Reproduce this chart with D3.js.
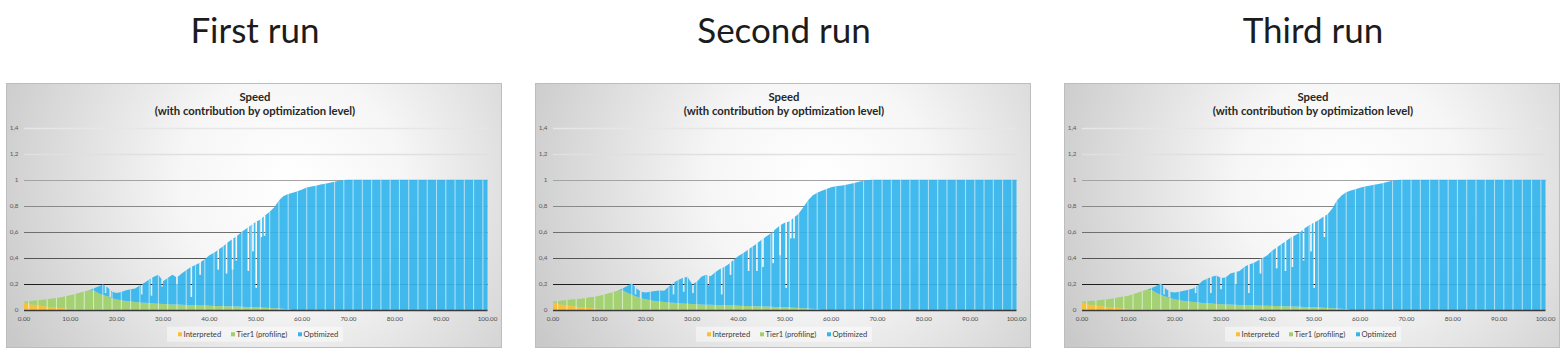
<!DOCTYPE html>
<html>
<head>
<meta charset="utf-8">
<script src="https://cdn.jsdelivr.net/npm/d3@7"></script>
<style>
  body { margin: 0; background: #fff; }
  svg { display: block; }
</style>
</head>
<body>
<div id="chart"></div>
<script>
// sample positions along the run (x axis 0..100)
const samples = [
  0,1,2,3,4,5,6,7,8,9,10,11,12,13,14,15,16,17,18,19,20,
  21,22,23,24,25,26,27,28,29,30,31,32,33,34,35,36,37,38,39,40,
  41,42,43,44,45,46,47,48,49,50,51,52,53,54,55,56,57,58,59,60,
  61,62,63,64,65,66,67,68,69,70,71,72,73,74,75,76,77,78,79,80,
  81,82,83,84,85,86,87,88,89,90,91,92,93,94,95,96,97,98,99,100
];

const runTitles = ["First run", "Second run", "Third run"];
const seriesNames = ["Interpreted", "Tier1 (profiling)", "Optimized"];
const xTicks = [0, 10, 20, 30, 40, 50, 60, 70, 80, 90, 100];
const yTicks = [0, 0.2, 0.4, 0.6, 0.8, 1, 1.2, 1.4];

// values past the end of the interpreted / tier1 arrays are zero
const interpretedRun1 = [0.06,0.045,0.04,0.035,0.03,0.025,0.02,0.018,0.015,0.012,0.01,0.008,0.006,0.005,0.004,0.004,0.003,0.003,0.003,0.002,0.002];
const tier1Run1 = [0.005,0.023,0.032,0.04,0.048,0.058,0.068,0.075,0.083,0.093,0.103,0.114,0.126,0.137,0.148,0.146,0.127,0.112,0.102,0.088,0.078,
  0.075,0.07,0.066,0.062,0.058,0.055,0.053,0.05,0.048,0.046,0.044,0.043,0.042,0.04,0.039,0.038,0.036,0.035,0.034,0.032,
  0.031,0.03,0.029,0.028,0.027,0.026,0.025,0.024,0.023,0.022,0.02,0.018,0.016,0.014,0.012,0.01,0.006];
const optimizedRun1 = [0,0,0,0,0,0,0,0,0,0,0,0,0,0,0,0.015,0.05,0.08,0.07,0.05,0.05,
  0.063,0.082,0.094,0.103,0.132,0.155,0.182,0.205,0.222,0.174,0.201,0.227,0.208,0.24,0.266,0.292,0.309,0.33,0.356,0.388,
  0.409,0.435,0.461,0.492,0.518,0.544,0.575,0.601,0.627,0.653,0.675,0.707,0.739,0.776,0.828,0.865,0.884,0.9,0.912,0.925,
  0.94,0.948,0.955,0.963,0.97,0.977,0.985,0.992,0.998,1,1,1,1,1,1,1,1,1,1,1,
  1,1,1,1,1,1,1,1,1,1,1,1,1,1,1,1,1,1,1,1];
const dipsRun1 = [[17.6,0.13],[18.6,0.1],[25.4,0.12],[27.5,0.11],[29.8,0.18],[33,0.2],[36.1,0.1],[38,0.27],[41.9,0.31],
  [43.7,0.28],[45,0.31],[45.8,0.38],[48.4,0.3],[49.4,0.45],[50.1,0.17],[51.2,0.56],[51.9,0.57]];

const interpretedRun2 = [0.062,0.046,0.04,0.036,0.031,0.026,0.021,0.018,0.015,0.012,0.01,0.008,0.006,0.005,0.004,0.004,0.003,0.003,0.003,0.002,0.002];
const tier1Run2 = [0.004,0.022,0.033,0.041,0.049,0.058,0.066,0.074,0.082,0.09,0.1,0.11,0.122,0.134,0.146,0.148,0.13,0.114,0.1,0.088,0.08,
  0.075,0.07,0.066,0.062,0.058,0.055,0.052,0.05,0.048,0.046,0.044,0.042,0.041,0.04,0.038,0.037,0.036,0.035,0.034,0.032,
  0.031,0.03,0.029,0.028,0.027,0.026,0.025,0.024,0.023,0.022,0.02,0.018,0.016,0.014,0.012,0.01,0.006];
const optimizedRun2 = [0,0,0,0,0,0,0,0,0,0,0,0,0,0,0,0.013,0.052,0.088,0.062,0.05,0.053,
  0.065,0.075,0.084,0.086,0.122,0.155,0.178,0.195,0.207,0.154,0.171,0.213,0.229,0.22,0.252,0.278,0.294,0.32,0.351,0.383,
  0.404,0.43,0.456,0.482,0.513,0.539,0.565,0.596,0.627,0.648,0.66,0.692,0.724,0.776,0.828,0.87,0.894,0.915,0.93,0.942,
  0.95,0.955,0.96,0.968,0.975,0.985,0.993,0.999,1,1,1,1,1,1,1,1,1,1,1,1,
  1,1,1,1,1,1,1,1,1,1,1,1,1,1,1,1,1,1,1,1];
const dipsRun2 = [[17.8,0.12],[18.9,0.09],[26,0.12],[28.2,0.14],[30.2,0.13],[33.5,0.19],[36.4,0.12],[38.3,0.27],[42.2,0.3],
  [44,0.3],[45.3,0.33],[47.5,0.36],[49,0.42],[50.3,0.17],[51.3,0.55],[52,0.55]];

const interpretedRun3 = [0.06,0.044,0.039,0.034,0.03,0.025,0.021,0.018,0.015,0.012,0.01,0.008,0.006,0.005,0.004,0.004,0.003,0.003,0.003,0.002,0.002];
const tier1Run3 = [0.006,0.024,0.032,0.038,0.046,0.055,0.064,0.072,0.082,0.092,0.1,0.112,0.126,0.14,0.152,0.15,0.13,0.112,0.1,0.09,0.08,
  0.074,0.069,0.065,0.061,0.057,0.054,0.052,0.05,0.047,0.045,0.043,0.042,0.041,0.039,0.038,0.037,0.036,0.035,0.033,0.032,
  0.031,0.03,0.029,0.028,0.027,0.026,0.025,0.024,0.023,0.022,0.02,0.018,0.016,0.014,0.012,0.009,0.005];
const optimizedRun3 = [0,0,0,0,0,0,0,0,0,0,0,0,0,0,0,0.014,0.052,0.09,0.062,0.048,0.053,
  0.066,0.079,0.09,0.104,0.133,0.171,0.188,0.205,0.218,0.2,0.207,0.238,0.249,0.261,0.292,0.313,0.324,0.345,0.367,0.388,
  0.424,0.45,0.476,0.502,0.528,0.549,0.57,0.601,0.627,0.648,0.67,0.697,0.719,0.766,0.828,0.871,0.9,0.918,0.928,0.938,
  0.948,0.955,0.962,0.968,0.975,0.985,0.993,0.999,1,1,1,1,1,1,1,1,1,1,1,1,
  1,1,1,1,1,1,1,1,1,1,1,1,1,1,1,1,1,1,1,1];
const dipsRun3 = [[17.7,0.12],[18.8,0.1],[24.5,0.13],[27.8,0.13],[30,0.16],[33.2,0.2],[36,0.13],[38.5,0.28],[42,0.32],
  [43.9,0.3],[45.4,0.33],[47.8,0.38],[49.4,0.45],[50.1,0.17],[52.3,0.56]];

const runs = [
  { interpreted: interpretedRun1, tier1: tier1Run1, optimized: optimizedRun1, dips: dipsRun1 },
  { interpreted: interpretedRun2, tier1: tier1Run2, optimized: optimizedRun2, dips: dipsRun2 },
  { interpreted: interpretedRun3, tier1: tier1Run3, optimized: optimizedRun3, dips: dipsRun3 }
];

const colors = { "Interpreted": "#fcbf2d", "Tier1 (profiling)": "#9fd06a", "Optimized": "#35b5ec" };

var width = 1566, height = 353;
var boxLeft = [6, 535, 1064];
var boxW = 495, boxTop = 83, boxH = 264;
var m = { left: 18, right: 13.5, top: 44.7, bottom: 37 };

var commaLocale = d3.formatLocale({ decimal: ",", thousands: ".", grouping: [3], currency: ["", ""] });
var yFmt = commaLocale.format("~g");
var xFmt = d3.format(".2f");

// gridline shade gets lighter towards the top, as in the source image
var gridColor = d3.scaleLinear()
  .domain([0, 0.2, 0.4, 1, 1.2, 1.4])
  .range(["#3a3a3a", "#1e1e1e", "#555555", "#a3a3a3", "#e0e0e0", "#e6e6e6"]);

var svg = d3.select("#chart").append("svg")
  .attr("width", width)
  .attr("height", height);
var defs = svg.append("defs");

runs.forEach(function(run, p) {
  var bx = boxLeft[p];

  // big title over each panel
  svg.append("text")
    .attr("x", bx + 249)
    .attr("y", 43)
    .attr("text-anchor", "middle")
    .style("font-family", "Lato")
    .style("font-weight", 400)
    .style("font-size", "35px")
    .style("fill", "#1c1c1c")
    .text(runTitles[p]);

  // chart background
  var grad = defs.append("radialGradient")
    .attr("id", "bg" + p)
    .attr("gradientUnits", "userSpaceOnUse")
    .attr("cx", bx + 285).attr("cy", boxTop + 100)
    .attr("fx", bx + 285).attr("fy", boxTop + 100)
    .attr("r", 320);
  grad.append("stop").attr("offset", 0).attr("stop-color", "#ffffff");
  grad.append("stop").attr("offset", 0.35).attr("stop-color", "#f6f6f6");
  grad.append("stop").attr("offset", 1).attr("stop-color", "#c9c9c9");

  svg.append("rect")
    .attr("x", bx + 0.5).attr("y", boxTop + 0.5)
    .attr("width", boxW).attr("height", boxH)
    .style("fill", "url(#bg" + p + ")")
    .style("stroke", "#bdbdbd")
    .style("stroke-width", 1);

  var x = d3.scaleLinear().domain([0, 100]).range([bx + m.left, bx + boxW - m.right]);
  var y = d3.scaleLinear().domain([0, 1.4]).range([boxTop + boxH - m.bottom, boxTop + m.top]);

  // chart title
  var title = svg.append("text")
    .attr("text-anchor", "middle")
    .style("font-family", "Lato")
    .style("font-weight", "bold")
    .style("font-size", "11.3px")
    .style("fill", "#262626");
  title.append("tspan").attr("x", bx + 249).attr("y", 101).text("Speed");
  title.append("tspan").attr("x", bx + 249).attr("y", 115).text("(with contribution by optimization level)");

  // gridlines
  function drawGrid(g) {
    g.selectAll("line")
      .data(yTicks.filter(function(t) { return t > 0; }))
      .enter().append("line")
      .attr("x1", x(0)).attr("x2", x(100))
      .attr("y1", function(d) { return Math.round(y(d)) + 0.5; })
      .attr("y2", function(d) { return Math.round(y(d)) + 0.5; })
      .style("stroke", function(d) { return gridColor(d); })
      .style("stroke-width", function(d) { return d > 1 ? 1.6 : 1; });
  }
  drawGrid(svg.append("g"));

  // y labels
  svg.append("g").selectAll("text")
    .data(yTicks)
    .enter().append("text")
    .attr("x", x(0) - 5.5)
    .attr("y", function(d) { return y(d); })
    .attr("dy", "0.35em")
    .attr("text-anchor", "end")
    .style("font-family", "Lato")
    .style("font-size", "6.3px")
    .style("fill", "#595959")
    .text(function(d) { return yFmt(d); });

  // stacked data
  var rows = samples.map(function(s, i) {
    var r = { x: s };
    r["Interpreted"] = run.interpreted[i] || 0;
    r["Tier1 (profiling)"] = run.tier1[i] || 0;
    r["Optimized"] = run.optimized[i] || 0;
    return r;
  });
  var stacked = d3.stack().keys(seriesNames)(rows);

  var area = d3.area()
    .x(function(d) { return x(d.data.x); })
    .y0(function(d) { return y(d[0]); })
    .y1(function(d) { return y(d[1]); });

  svg.append("g").selectAll("path")
    .data(stacked)
    .enter().append("path")
    .attr("d", area)
    .style("fill", function(d) { return colors[d.key]; })
    .style("fill-opacity", 0.93);

  // thin light gaps between columns
  var totals = rows.map(function(r) { return r["Interpreted"] + r["Tier1 (profiling)"] + r["Optimized"]; });
  svg.append("g").selectAll("line")
    .data(rows.filter(function(r, i) { return i % 2 === 1 && i < rows.length - 1; }))
    .enter().append("line")
    .attr("x1", function(d) { return x(d.x); })
    .attr("x2", function(d) { return x(d.x); })
    .attr("y1", y(0))
    .attr("y2", function(d) { return y(d["Interpreted"] + d["Tier1 (profiling)"] + d["Optimized"]); })
    .style("stroke", "#ffffff")
    .style("stroke-opacity", 0.55)
    .style("stroke-width", 1.1);

  // short drops in speed
  var totalAt = d3.scaleLinear().domain(samples).range(totals);
  var clip = defs.append("clipPath").attr("id", "dipclip" + p);
  [svg.append("g"), clip].forEach(function(g, k) {
    g.selectAll("rect")
      .data(run.dips)
      .enter().append("rect")
      .attr("x", function(d) { return x(d[0]) - 0.8; })
      .attr("width", 1.6)
      .attr("y", function(d) { return y(totalAt(d[0])) - 0.5; })
      .attr("height", function(d) { return y(d[1]) - y(totalAt(d[0])) + 0.5; })
      .style("fill", k === 0 ? "url(#bg" + p + ")" : null);
  });
  drawGrid(svg.append("g").attr("clip-path", "url(#dipclip" + p + ")"));

  // x axis line + labels
  svg.append("line")
    .attr("x1", x(0)).attr("x2", x(100))
    .attr("y1", Math.round(y(0)) + 0.5).attr("y2", Math.round(y(0)) + 0.5)
    .style("stroke", "#3a3a3a")
    .style("stroke-width", 1.3);

  svg.append("g").selectAll("text")
    .data(xTicks)
    .enter().append("text")
    .attr("x", function(d) { return x(d); })
    .attr("y", y(0) + 11)
    .attr("text-anchor", "middle")
    .style("font-family", "Lato")
    .style("font-size", "6.3px")
    .style("fill", "#4d4d4d")
    .text(function(d) { return xFmt(d); });

  // legend
  var lg = svg.append("g").attr("transform", "translate(" + (bx + 161) + "," + (boxTop + 243.7) + ")");
  lg.append("rect")
    .attr("width", 176).attr("height", 15)
    .style("fill", "#ffffff")
    .style("fill-opacity", 0.45);
  var itemX = [11, 64, 131];
  var item = lg.selectAll("g.item")
    .data(seriesNames)
    .enter().append("g")
    .attr("class", "item")
    .attr("transform", function(d, i) { return "translate(" + itemX[i] + ",0)"; });
  item.append("rect")
    .attr("y", 5.6).attr("width", 4).attr("height", 4)
    .style("fill", function(d) { return colors[d]; });
  item.append("text")
    .attr("x", 5.6).attr("y", 10.3)
    .style("font-family", "Lato")
    .style("font-size", "7.6px")
    .style("fill", "#404040")
    .text(function(d) { return d; });
});
</script>
</body>
</html>
